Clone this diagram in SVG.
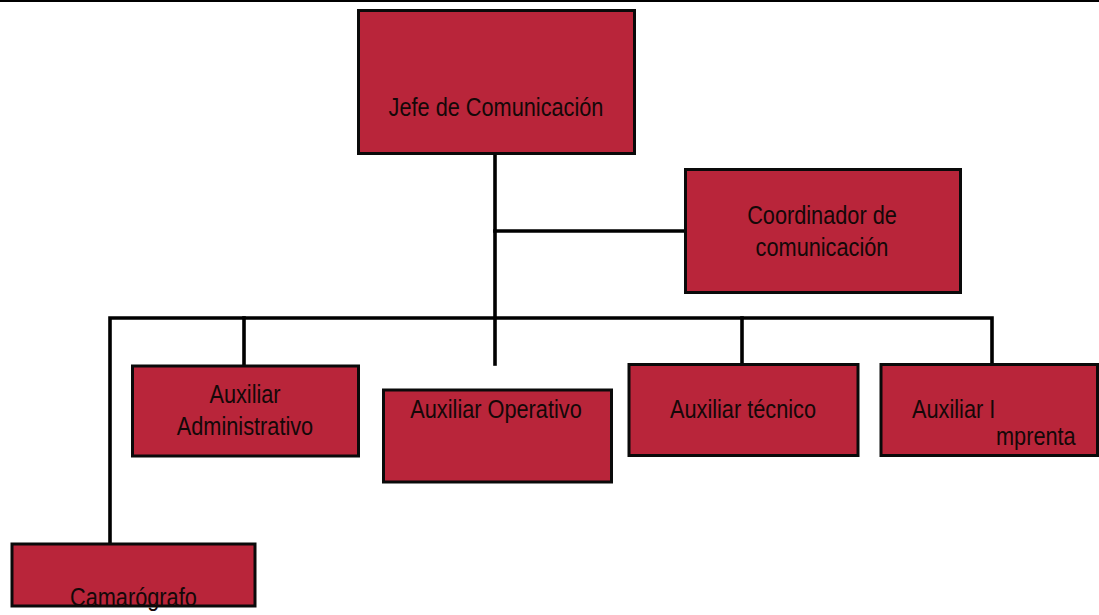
<svg xmlns="http://www.w3.org/2000/svg" width="1099" height="615" viewBox="0 0 1099 615">
  <style>
    .box { fill: #B9253A; stroke: #0a0a0a; stroke-width: 3; }
    .lbl { font-family: "Liberation Sans", Arial, sans-serif; font-size: 26.5px; fill: #140808; }
    .mid { text-anchor: middle; }
    .link { fill: none; stroke: #000; stroke-width: 3.6; stroke-linecap: square; stroke-linejoin: miter; }
  </style>
  <rect width="1099" height="615" fill="#ffffff"/>
  <!-- page rule across the top -->
  <line x1="0" y1="1" x2="1099" y2="1" stroke="#000" stroke-width="2"/>

  <!-- connectors -->
  <g id="connectors">
    <path class="link" d="M495 155 V364"/>
    <path class="link" d="M495 231 H684"/>
    <path class="link" d="M110 542 V318 H992 V363"/>
    <path class="link" d="M244 318 V365"/>
    <path class="link" d="M742 318 V363"/>
  </g>

  <!-- labels use a narrow rendering: horizontal scale 0.82 -->
  <g id="jefe">
    <rect class="box" x="358.5" y="10.5" width="276" height="143"/>
    <text class="lbl mid" transform="translate(496 0) scale(0.82 1)" x="0" y="116.5">Jefe de Comunicación</text>
  </g>

  <g id="coordinador">
    <rect class="box" x="685.5" y="169.5" width="275" height="123"/>
    <text class="lbl mid" transform="translate(822 0) scale(0.82 1)" x="0" y="224">Coordinador de</text>
    <text class="lbl mid" transform="translate(822 0) scale(0.82 1)" x="0" y="256">comunicación</text>
  </g>

  <g id="aux-administrativo">
    <rect class="box" x="132.5" y="366" width="226" height="90"/>
    <text class="lbl mid" transform="translate(245 0) scale(0.82 1)" x="0" y="403">Auxiliar</text>
    <text class="lbl mid" transform="translate(245 0) scale(0.82 1)" x="0" y="435">Administrativo</text>
  </g>

  <g id="aux-operativo">
    <rect class="box" x="383.5" y="390" width="228" height="92"/>
    <text class="lbl mid" transform="translate(496 0) scale(0.82 1)" x="0" y="418">Auxiliar Operativo</text>
  </g>

  <g id="aux-tecnico">
    <rect class="box" x="629" y="364.5" width="229" height="91"/>
    <text class="lbl mid" transform="translate(743 0) scale(0.82 1)" x="0" y="418">Auxiliar técnico</text>
  </g>

  <g id="aux-imprenta">
    <rect class="box" x="881" y="364.5" width="216.5" height="91"/>
    <text class="lbl" transform="translate(912 0) scale(0.82 1)" x="0" y="418">Auxiliar I</text>
    <text class="lbl" transform="translate(996 0) scale(0.82 1)" x="0" y="445">mprenta</text>
  </g>

  <g id="camarografo">
    <rect class="box" x="12" y="544" width="243" height="62"/>
    <text class="lbl" transform="translate(70 0) scale(0.82 1)" x="0" y="606.5">Camarógrafo</text>
  </g>
</svg>
